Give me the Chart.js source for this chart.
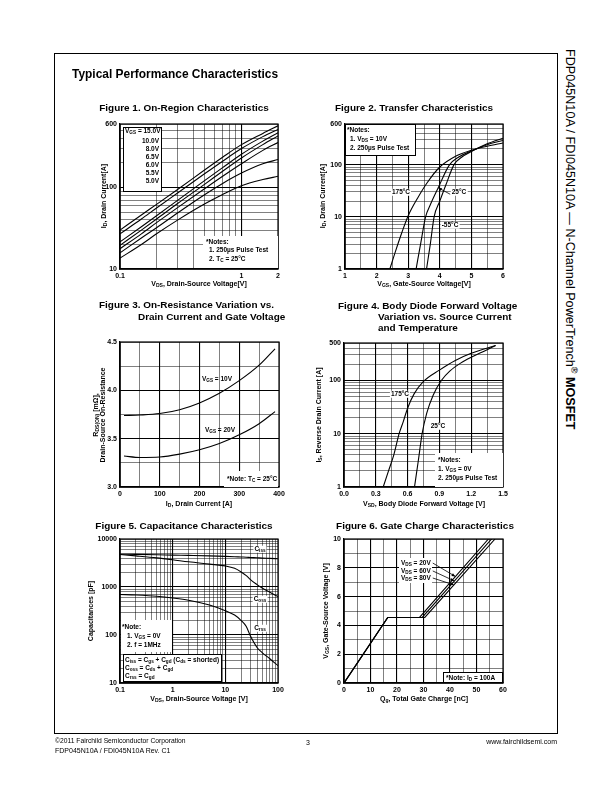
<!DOCTYPE html>
<html>
<head>
<meta charset="utf-8">
<script src="https://cdn.jsdelivr.net/npm/chart.js@4.4.0/dist/chart.umd.min.js"></script>
<style>
html, body { margin: 0; padding: 0; background: #fff; }
body { width: 612px; height: 792px; position: relative; overflow: hidden;
  font-family: "Liberation Sans", Arial, Helvetica, sans-serif; color: #000; }
canvas { position: absolute; }
.t { position: absolute; white-space: nowrap; line-height: 1; }
.c { transform: translate(-50%, -50%); }
.l { transform: translate(0, -50%); }
.rr { transform: translate(-100%, -50%); }
.v { transform: translate(-50%, -50%) rotate(-90deg); }
.b { font-weight: bold; }
.s { font-size: 6.5px; font-weight: bold; }
.ax { font-size: 7px; font-weight: bold; }
.bg { background: #fff; padding: 0 1px; }
.box { position: absolute; background: #fff; box-sizing: border-box; }
.bd { border: 0.8px solid #000; }
sub { font-size: 72%; vertical-align: -0.3em; line-height: 0; }
sup { font-size: 72%; vertical-align: 0.5em; line-height: 0; }
#frame { position: absolute; left: 54px; top: 53px; width: 504px; height: 681px;
  border: 1.3px solid #000; box-sizing: border-box; }
</style>
</head>
<body>
<canvas id="c1"></canvas>
<canvas id="c2"></canvas>
<canvas id="c3"></canvas>
<canvas id="c4"></canvas>
<canvas id="c5"></canvas>
<canvas id="c6"></canvas>

<div id="frame"></div>

<div class="t b l" id="mainTitle" style="left:72px;top:75px;font-size:12px" data-w="206">Typical Performance Characteristics</div>

<div class="t b c ft" id="ft1" style="left:184px;top:108px;font-size:10px" data-w="170">Figure 1. On-Region Characteristics</div>
<div class="t b c ft" style="left:414px;top:108px">Figure 2. Transfer Characteristics</div>
<div class="t b l ft" style="left:99px;top:305px">Figure 3. On-Resistance Variation vs.</div>
<div class="t b l ft" style="left:138px;top:317px">Drain Current and Gate Voltage</div>
<div class="t b l ft" style="left:338px;top:306px">Figure 4. Body Diode Forward Voltage</div>
<div class="t b l ft" style="left:378px;top:317px">Variation vs. Source Current</div>
<div class="t b l ft" style="left:378px;top:328px">and Temperature</div>
<div class="t b c ft" style="left:184px;top:526px">Figure 5. Capacitance Characteristics</div>
<div class="t b c ft" style="left:425px;top:526px">Figure 6. Gate Charge Characteristics</div>

<!-- axis titles -->
<div class="t ax c" style="left:199px;top:283px">V<sub>DS</sub>, Drain-Source Voltage[V]</div>
<div class="t ax v" style="left:103px;top:196px">I<sub>D</sub>, Drain Current[A]</div>
<div class="t ax c" style="left:424px;top:283px">V<sub>GS</sub>, Gate-Source Voltage[V]</div>
<div class="t ax v" style="left:322px;top:196px">I<sub>D</sub>, Drain Current[A]</div>
<div class="t ax c" style="left:199px;top:503px">I<sub>D</sub>, Drain Current [A]</div>
<div class="t ax v" style="left:95px;top:415px">R<sub>DS(ON)</sub> [mΩ],</div>
<div class="t ax v" style="left:102px;top:415px">Drain-Source On-Resistance</div>
<div class="t ax c" style="left:424px;top:503px">V<sub>SD</sub>, Body Diode Forward Voltage [V]</div>
<div class="t ax v" style="left:318px;top:415px">I<sub>S</sub>, Reverse Drain Current [A]</div>
<div class="t ax c" style="left:199px;top:698px">V<sub>DS</sub>, Drain-Source Voltage [V]</div>
<div class="t ax v" style="left:90px;top:611px">Capacitances [pF]</div>
<div class="t ax c" style="left:424px;top:698px">Q<sub>g</sub>, Total Gate Charge [nC]</div>
<div class="t ax v" style="left:325px;top:611px">V<sub>GS</sub>, Gate-Source Voltage [V]</div>

<!-- figure 1 legend and notes -->
<div class="box bd" style="left:123px;top:127px;width:39px;height:65px"></div>
<div class="t s l" style="left:125px;top:131px">V<sub>GS</sub> = 15.0V</div>
<div class="t s rr" style="left:159px;top:141px">10.0V</div>
<div class="t s rr" style="left:159px;top:149px">8.0V</div>
<div class="t s rr" style="left:159px;top:157px">6.5V</div>
<div class="t s rr" style="left:159px;top:165px">6.0V</div>
<div class="t s rr" style="left:159px;top:173px">5.5V</div>
<div class="t s rr" style="left:159px;top:181px">5.0V</div>
<div class="box" style="left:203px;top:236px;width:75px;height:32px"></div>
<div class="t s l" style="left:206px;top:242px">*Notes:</div>
<div class="t s l" style="left:209px;top:250px">1. 250µs Pulse Test</div>
<div class="t s l" style="left:209px;top:259px">2. T<sub>C</sub> = 25°C</div>

<!-- figure 2 notes and labels -->
<div class="box bd" style="left:345px;top:124px;width:71px;height:32px"></div>
<div class="t s l" style="left:347px;top:130px">*Notes:</div>
<div class="t s l" style="left:350px;top:139px">1. V<sub>DS</sub> = 10V</div>
<div class="t s l" style="left:350px;top:148px">2. 250µs Pulse Test</div>
<div class="t s c bg" style="left:401px;top:192px">175°C</div>
<div class="t s c bg" style="left:459px;top:192px">25°C</div>
<div class="t s c bg" style="left:450px;top:225px">-55°C</div>

<!-- figure 3 labels -->
<div class="t s c" style="left:217px;top:379px">V<sub>GS</sub> = 10V</div>
<div class="t s c" style="left:220px;top:430px">V<sub>GS</sub> = 20V</div>
<div class="box" style="left:224px;top:471px;width:54px;height:16px"></div>
<div class="t s l" style="left:227px;top:479px">*Note: T<sub>C</sub> = 25°C</div>

<!-- figure 4 labels and notes -->
<div class="t s c bg" style="left:400px;top:394px">175°C</div>
<div class="t s c bg" style="left:438px;top:426px">25°C</div>
<div class="box" style="left:435px;top:453px;width:68px;height:34px"></div>
<div class="t s l" style="left:438px;top:460px">*Notes:</div>
<div class="t s l" style="left:438px;top:469px">1. V<sub>GS</sub> = 0V</div>
<div class="t s l" style="left:438px;top:478px">2. 250µs Pulse Test</div>

<!-- figure 5 labels and notes -->
<div class="t s c bg" style="left:260px;top:549px">C<sub>iss</sub></div>
<div class="t s c bg" style="left:260px;top:599px">C<sub>oss</sub></div>
<div class="t s c bg" style="left:260px;top:628px">C<sub>rss</sub></div>
<div class="box" style="left:121px;top:620px;width:51px;height:32px"></div>
<div class="t s l" style="left:122px;top:627px">*Note:</div>
<div class="t s l" style="left:127px;top:636px">1. V<sub>GS</sub> = 0V</div>
<div class="t s l" style="left:127px;top:645px">2. f = 1MHz</div>
<div class="box bd" style="left:123px;top:654px;width:99px;height:28px"></div>
<div class="t s l" style="left:125px;top:660px">C<sub>iss</sub> = C<sub>gs</sub> + C<sub>gd</sub> (C<sub>ds</sub> = shorted)</div>
<div class="t s l" style="left:125px;top:668px">C<sub>oss</sub> = C<sub>ds</sub> + C<sub>gd</sub></div>
<div class="t s l" style="left:125px;top:676px">C<sub>rss</sub> = C<sub>gd</sub></div>

<!-- figure 6 labels and note -->
<div class="box" style="left:399px;top:558px;width:33px;height:25px"></div>
<div class="t s l" style="left:401px;top:563px">V<sub>DS</sub> = 20V</div>
<div class="t s l" style="left:401px;top:571px">V<sub>DS</sub> = 60V</div>
<div class="t s l" style="left:401px;top:578px">V<sub>DS</sub> = 80V</div>
<div class="box bd" style="left:443px;top:672px;width:60px;height:11px"></div>
<div class="t s l" style="left:446px;top:678px">*Note: I<sub>D</sub> = 100A</div>

<!-- side text and footer -->
<div class="t" style="left:576px;top:49px;font-size:12px;transform-origin:0 0;transform:rotate(90deg)" data-w="381">FDP045N10A / FDI045N10A — N-Channel PowerTrench<sup>®</sup> <b>MOSFET</b></div>
<div class="t l" style="left:55px;top:741px;font-size:7px" data-w="131">©2011 Fairchild Semiconductor Corporation</div>
<div class="t l" style="left:55px;top:750px;font-size:7px">FDP045N10A / FDI045N10A Rev. C1</div>
<div class="t c" style="left:308px;top:742px;font-size:7px">3</div>
<div class="t rr" style="left:557px;top:741px;font-size:7px">www.fairchildsemi.com</div>

<script>
// ---------- Figure 1: On-Region Characteristics ----------
const fig1Vds = [0.1, 0.15, 0.2, 0.3, 0.5, 0.7, 1, 1.5, 2];
const fig1Id15 = [30, 46, 62, 95, 165, 235, 335, 460, 570];
const fig1Id10 = [27, 41, 56, 86, 148, 210, 300, 420, 515];
const fig1Id8 = [21.5, 33, 45, 70, 122, 175, 255, 370, 468];
const fig1Id65 = [19.5, 30, 41, 64, 110, 158, 230, 335, 428];
const fig1Id6 = [17.7, 27, 37, 57, 97, 137, 195, 285, 355];
const fig1Id55 = [15.8, 24, 32, 49, 82, 112, 150, 195, 220];
const fig1Id5 = [13.6, 20, 27, 40, 63, 82, 105, 125, 137];
const fig1XLabels = [0.1, 1, 2];
const fig1YLabels = [10, 100, 600];

// ---------- Figure 2: Transfer Characteristics ----------
const fig2Vgs175 = [2.42, 2.6, 2.8, 3.0, 3.3, 3.6, 4.0, 4.5, 5.0, 5.5, 6.0];
const fig2Id175 = [1, 2.2, 5, 10.5, 23, 45, 90, 145, 188, 225, 260];
const fig2Vgs25 = [3.25, 3.4, 3.55, 3.7, 3.95, 4.3, 4.6, 5.0, 5.5, 6.0];
const fig2Id25 = [1, 3.2, 10, 17, 36, 98, 140, 182, 240, 290];
const fig2VgsM55 = [3.58, 3.7, 3.82, 4.0, 4.2, 4.45, 4.7, 5.0, 5.5, 6.0];
const fig2IdM55 = [1, 3, 10, 20, 42, 100, 140, 178, 250, 320];
const fig2XLabels = [1, 2, 3, 4, 5, 6];
const fig2YLabels = [1, 10, 100, 600];
const fig2Arrow25 = [[4.33, 27], [3.95, 36]];

// ---------- Figure 3: On-Resistance ----------
const fig3Id = [10, 50, 100, 150, 200, 250, 300, 350, 390];
const fig3R10 = [3.74, 3.745, 3.76, 3.80, 3.87, 3.97, 4.10, 4.26, 4.43];
const fig3R20 = [3.32, 3.305, 3.31, 3.34, 3.385, 3.45, 3.54, 3.655, 3.78];
const fig3XLabels = [0, 100, 200, 300, 400];
const fig3YLabels = [3, 3.5, 4, 4.5];

// ---------- Figure 4: Body Diode Forward Voltage ----------
const fig4Vsd175 = [0.37, 0.42, 0.47, 0.52, 0.56, 0.6, 0.66, 0.75, 0.9, 1.05, 1.2, 1.43];
const fig4Is175 = [1, 2, 4, 10, 17, 30, 55, 95, 155, 235, 320, 450];
const fig4Vsd25 = [0.665, 0.7, 0.737, 0.78, 0.84, 0.92, 1.0, 1.1, 1.2, 1.3, 1.43];
const fig4Is25 = [1, 3, 10, 24, 52, 100, 150, 210, 270, 335, 450];
const fig4XLabels = [0, 0.3, 0.6, 0.9, 1.2, 1.5];
const fig4YLabels = [1, 10, 100, 500];

// ---------- Figure 5: Capacitance ----------
const fig5Vds = [0.1, 0.2, 0.5, 1, 2, 5, 10, 15, 20, 25, 30, 40, 50, 70, 100];
const fig5Ciss = [4800, 4780, 4700, 4620, 4550, 4450, 4350, 4280, 4220, 4180, 4130, 4060, 4000, 3950, 3880];
const fig5Coss = [4750, 4450, 4050, 3700, 3350, 3000, 2750, 2450, 2050, 1720, 1420, 1120, 950, 780, 630];
const fig5Crss = [700, 680, 640, 590, 530, 420, 320, 260, 200, 150, 95, 55, 43, 32, 23];
const fig5XLabels = [0.1, 1, 10, 100];
const fig5YLabels = [10, 100, 1000, 10000];

// ---------- Figure 6: Gate Charge ----------
const fig6Q20 = [0, 16.5, 28.5, 54.5];
const fig6Q60 = [0, 16.5, 29.5, 55.7];
const fig6Q80 = [0, 16.5, 30.5, 57];
const fig6Vgs = [0, 4.55, 4.55, 10];
const fig6XLabels = [0, 10, 20, 30, 40, 50, 60];
const fig6YLabels = [0, 2, 4, 6, 8, 10];
const fig6Arrows = [
  [[33.5, 8.33], [42, 7.40]],
  [[33.5, 7.78], [41.6, 7.09]],
  [[33.5, 7.29], [41.4, 6.82]]
];

// ---------- fit a few texts to their measured widths ----------
document.querySelectorAll('[data-w]').forEach(function (el) {
  const fs = parseFloat(getComputedStyle(el).fontSize);
  el.style.fontSize = (fs * (+el.dataset.w) / el.offsetWidth) + 'px';
});
const titleSize = document.getElementById('ft1').style.fontSize;
document.querySelectorAll('.ft').forEach(function (el) { el.style.fontSize = titleSize; });

// ---------- chart helpers ----------
Chart.defaults.font.family = '"Liberation Sans", Arial, Helvetica, sans-serif';
Chart.defaults.color = '#000';

const PAD = { l: 38, t: 8, r: 12, b: 16 };

function logGrid(min, max) {
  const out = [];
  for (let e = Math.floor(Math.log10(min)); e <= Math.ceil(Math.log10(max)); e++) {
    for (let m = 1; m < 10; m++) {
      const v = Number((m * Math.pow(10, e)).toPrecision(6));
      if (v >= min && v <= max) out.push(v);
    }
  }
  return out;
}

function linGrid(min, max, step) {
  const out = [];
  const n = Math.round((max - min) / step);
  for (let i = 0; i <= n; i++) out.push(Number((min + i * step).toFixed(6)));
  return out;
}

function axis(type, min, max, grid, labels, majors, fmt, isX) {
  return {
    type: type, min: min, max: max,
    afterBuildTicks: function (s) { s.ticks = grid.map(function (v) { return { value: v }; }); },
    afterFit: function (s) { if (isX) s.height = PAD.b; else s.width = PAD.l; },
    ticks: {
      autoSkip: false, maxRotation: 0, padding: 3, color: '#000',
      font: { size: 7, weight: 'bold' },
      callback: function (v) { return labels.indexOf(v) >= 0 ? fmt(v) : ''; }
    },
    grid: {
      color: '#000', drawTicks: false,
      lineWidth: function (c) { return (c.tick && majors.indexOf(c.tick.value) >= 0) ? 1.1 : 0.5; }
    },
    border: { color: '#000', width: 1.2 }
  };
}

function curve(xs, ys, straight) {
  return {
    data: xs.map(function (x, i) { return { x: x, y: ys[i] }; }),
    showLine: true, borderColor: '#000', borderWidth: 1.1, pointRadius: 0, fill: false,
    tension: straight ? 0 : 0.4,
    cubicInterpolationMode: straight ? 'default' : 'monotone'
  };
}

const framePlugin = {
  id: 'frame',
  afterDraw: function (chart) {
    const a = chart.chartArea, c = chart.ctx;
    c.save();
    c.strokeStyle = '#000';
    c.lineWidth = 1.2;
    c.strokeRect(a.left, a.top, a.right - a.left, a.bottom - a.top);
    c.restore();
  }
};

function arrows(list) {
  return {
    id: 'arrows',
    afterDatasetsDraw: function (chart) {
      const xs = chart.scales.x, ys = chart.scales.y, c = chart.ctx;
      c.save();
      c.strokeStyle = '#000';
      c.fillStyle = '#000';
      c.lineWidth = 0.8;
      list.forEach(function (ar) {
        const x0 = xs.getPixelForValue(ar[0][0]), y0 = ys.getPixelForValue(ar[0][1]);
        const x1 = xs.getPixelForValue(ar[1][0]), y1 = ys.getPixelForValue(ar[1][1]);
        const ang = Math.atan2(y1 - y0, x1 - x0);
        c.beginPath();
        c.moveTo(x0, y0);
        c.lineTo(x1, y1);
        c.stroke();
        c.beginPath();
        c.moveTo(x1, y1);
        c.lineTo(x1 - 4 * Math.cos(ang - 0.4), y1 - 4 * Math.sin(ang - 0.4));
        c.lineTo(x1 - 4 * Math.cos(ang + 0.4), y1 - 4 * Math.sin(ang + 0.4));
        c.closePath();
        c.fill();
      });
      c.restore();
    }
  };
}

function drawChart(id, rect, scales, datasets, extra) {
  const cv = document.getElementById(id);
  cv.width = rect[2] - rect[0] + PAD.l + PAD.r;
  cv.height = rect[3] - rect[1] + PAD.t + PAD.b;
  cv.style.left = (rect[0] - PAD.l) + 'px';
  cv.style.top = (rect[1] - PAD.t) + 'px';
  return new Chart(cv, {
    type: 'scatter',
    data: { datasets: datasets },
    options: {
      responsive: false, animation: false, devicePixelRatio: 1,
      layout: { padding: { left: 0, top: PAD.t, right: PAD.r, bottom: 0 } },
      plugins: { legend: { display: false }, tooltip: { enabled: false } },
      scales: scales
    },
    plugins: [framePlugin].concat(extra || [])
  });
}

const plain = function (v) { return String(v); };
const oneDec = function (v) { return v.toFixed(1); };

drawChart('c1', [120, 124, 278, 269], {
  x: axis('logarithmic', 0.1, 2, logGrid(0.1, 2), fig1XLabels, [1], plain, true),
  y: axis('logarithmic', 10, 600, logGrid(10, 600), fig1YLabels, [100], plain, false)
}, [
  curve(fig1Vds, fig1Id15), curve(fig1Vds, fig1Id10), curve(fig1Vds, fig1Id8),
  curve(fig1Vds, fig1Id65), curve(fig1Vds, fig1Id6), curve(fig1Vds, fig1Id55),
  curve(fig1Vds, fig1Id5)
]);

drawChart('c2', [345, 124, 503, 269], {
  x: axis('linear', 1, 6, linGrid(1, 6, 0.5), fig2XLabels, [2, 3, 4, 5], plain, true),
  y: axis('logarithmic', 1, 600, logGrid(1, 600), fig2YLabels, [10, 100], plain, false)
}, [
  curve(fig2Vgs175, fig2Id175), curve(fig2Vgs25, fig2Id25), curve(fig2VgsM55, fig2IdM55)
], [arrows([fig2Arrow25])]);

drawChart('c3', [120, 342, 279, 487], {
  x: axis('linear', 0, 400, linGrid(0, 400, 50), fig3XLabels, [100, 200, 300], plain, true),
  y: axis('linear', 3, 4.5, linGrid(3, 4.5, 0.25), fig3YLabels, [3.5, 4], oneDec, false)
}, [
  curve(fig3Id, fig3R10), curve(fig3Id, fig3R20)
]);

drawChart('c4', [344, 343, 503, 487], {
  x: axis('linear', 0, 1.5, linGrid(0, 1.5, 0.15), fig4XLabels, [0.3, 0.6, 0.9, 1.2], oneDec, true),
  y: axis('logarithmic', 1, 500, logGrid(1, 500), fig4YLabels, [10, 100], plain, false)
}, [
  curve(fig4Vsd175, fig4Is175), curve(fig4Vsd25, fig4Is25)
]);

drawChart('c5', [120, 539, 278, 683], {
  x: axis('logarithmic', 0.1, 100, logGrid(0.1, 100), fig5XLabels, [1, 10], plain, true),
  y: axis('logarithmic', 10, 10000, logGrid(10, 10000), fig5YLabels, [100, 1000], plain, false)
}, [
  curve(fig5Vds, fig5Ciss), curve(fig5Vds, fig5Coss), curve(fig5Vds, fig5Crss)
]);

drawChart('c6', [344, 539, 503, 683], {
  x: axis('linear', 0, 60, linGrid(0, 60, 5), fig6XLabels, [10, 20, 30, 40, 50], plain, true),
  y: axis('linear', 0, 10, linGrid(0, 10, 1), fig6YLabels, [2, 4, 6, 8], plain, false)
}, [
  curve(fig6Q20, fig6Vgs, true), curve(fig6Q60, fig6Vgs, true), curve(fig6Q80, fig6Vgs, true)
], [arrows(fig6Arrows)]);
</script>
</body>
</html>
